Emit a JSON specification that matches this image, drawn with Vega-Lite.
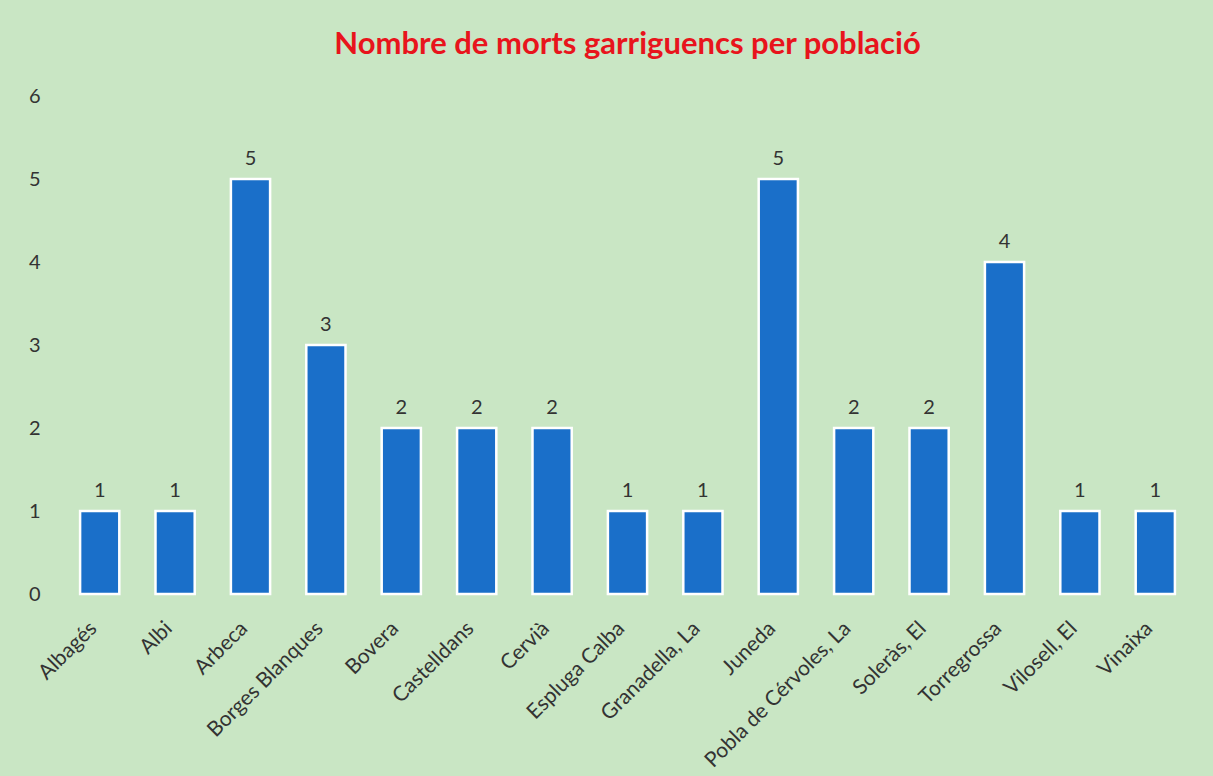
{
  "$schema": "https://vega.github.io/schema/vega-lite/v6.json",
  "width": 1131,
  "height": 498,
  "autosize": {"type": "none"},
  "padding": {"left": 62, "top": 96, "right": 20, "bottom": 182},
  "background": "#c9e6c4",
  "title": {
    "text": "Nombre de morts garriguencs per població",
    "color": "#e8141c",
    "font": "Lato",
    "fontWeight": "bold",
    "fontSize": 31,
    "anchor": "middle",
    "offset": 25
  },
  "data": {
    "values": [
      {"poblacio": "Albagés", "morts": 1},
      {"poblacio": "Albi", "morts": 1},
      {"poblacio": "Arbeca", "morts": 5},
      {"poblacio": "Borges Blanques", "morts": 3},
      {"poblacio": "Bovera", "morts": 2},
      {"poblacio": "Castelldans", "morts": 2},
      {"poblacio": "Cervià", "morts": 2},
      {"poblacio": "Espluga Calba", "morts": 1},
      {"poblacio": "Granadella, La", "morts": 1},
      {"poblacio": "Juneda", "morts": 5},
      {"poblacio": "Pobla de Cérvoles, La", "morts": 2},
      {"poblacio": "Soleràs, El", "morts": 2},
      {"poblacio": "Torregrossa", "morts": 4},
      {"poblacio": "Vilosell, El", "morts": 1},
      {"poblacio": "Vinaixa", "morts": 1}
    ]
  },
  "encoding": {
    "x": {
      "field": "poblacio",
      "type": "nominal",
      "sort": null,
      "scale": {"paddingInner": 0.48, "paddingOuter": 0.24},
      "axis": {
        "title": null,
        "labelAngle": -45,
        "labelAlign": "right",
        "labelBaseline": "middle",
        "labelFont": "Lato",
        "labelFontSize": 21,
        "labelColor": "#333333",
        "labelPadding": 31,
        "labelOffset": -6,
        "labelLimit": 400,
        "ticks": false,
        "domain": false,
        "grid": false
      }
    },
    "y": {
      "field": "morts",
      "type": "quantitative",
      "scale": {"domain": [0, 6], "nice": false},
      "axis": {
        "title": null,
        "values": [0, 1, 2, 3, 4, 5, 6],
        "labelFont": "Lato",
        "labelFontSize": 20,
        "labelColor": "#333333",
        "labelPadding": 22,
        "ticks": false,
        "domain": false,
        "grid": false
      }
    }
  },
  "layer": [
    {
      "mark": {"type": "bar", "color": "#1a6fc9", "stroke": "white", "strokeWidth": 2.5}
    },
    {
      "mark": {"type": "text", "baseline": "bottom", "dy": -10, "font": "Lato", "fontSize": 20, "color": "#333333"},
      "encoding": {"text": {"field": "morts", "type": "quantitative"}}
    }
  ],
  "config": {"view": {"stroke": null}}
}
